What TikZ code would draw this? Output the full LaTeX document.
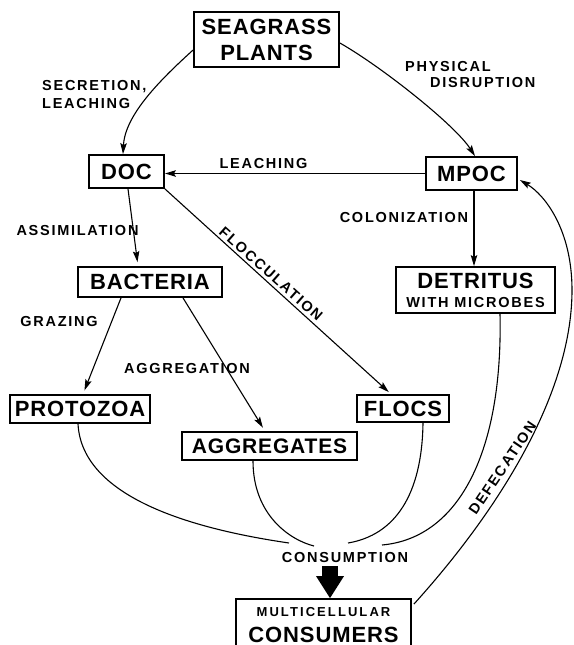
\documentclass[tikz,border=0pt]{standalone}
\usepackage{fontspec}
\usetikzlibrary{arrows.meta,calc}
\newfontfamily\boxfont[LetterSpace=4]{Liberation Sans}
\newfontfamily\labfont[LetterSpace=12]{Liberation Sans}
\newfontfamily\mcfont[LetterSpace=16]{Liberation Sans}
\begin{document}
\begin{tikzpicture}[x=1pt,y=-1pt,
  bx/.style={draw,line width=1.8pt,inner sep=0pt,align=center,font=\boxfont\bfseries\fontsize{22}{26}\selectfont},
  lab/.style={inner sep=0pt,font=\labfont\bfseries\fontsize{14.5}{18}\selectfont},
  arr/.style={line width=1.1pt,-{Stealth[length=11pt,width=6.5pt,inset=2pt]}},
  ln/.style={line width=1.1pt}]
\fill[white] (0,0) rectangle (573,645);
\useasboundingbox (0,0) rectangle (573,645);

% boxes
\node[bx,minimum width=145pt,minimum height=55pt] (sg) at (266.5,39.5) {SEAGRASS\\PLANTS};
\node[bx,minimum width=75pt,minimum height=33pt] (doc) at (126.5,171.5) {DOC};
\node[bx,minimum width=91pt,minimum height=33pt] (mpoc) at (471.5,173.5) {MPOC};
\node[bx,minimum width=159pt,minimum height=46pt] (det) at (475.5,290) {DETRITUS\\[-7pt]{\labfont\bfseries\fontsize{14.5}{18}\selectfont WITH MICROBES}};
\node[bx,minimum width=144pt,minimum height=30pt] (bac) at (150,282) {BACTERIA};
\node[bx,minimum width=140pt,minimum height=28pt] (proto) at (80,409) {PROTOZOA};
\node[bx,minimum width=175pt,minimum height=28pt,font=\boxfont\bfseries\fontsize{21}{26}\selectfont] (agg) at (269.5,446) {AGGREGATES};
\node[bx,minimum width=92pt,minimum height=27pt] (flocs) at (403,408.5) {FLOCS};
\node[bx,minimum width=175pt,minimum height=52pt] (cons) at (323.5,625) {{\mcfont\bfseries\fontsize{13}{15}\selectfont MULTICELLULAR}\\CONSUMERS};

% labels
\node[lab,anchor=west,align=left] (l1) at (42,94.5) {SECRETION,\\LEACHING};
\node[lab,anchor=west,align=left,font=\labfont\bfseries\fontsize{14.5}{16}\selectfont] (l2) at (405,75) {PHYSICAL\\\hspace*{25pt}DISRUPTION};
\node[lab] (l3) at (263.5,164) {LEACHING};
\node[lab] (l4) at (404,218) {COLONIZATION};
\node[lab] (l5) at (77.5,231) {ASSIMILATION};
\node[lab,rotate=-41.5] (l6) at (271,274) {FLOCCULATION};
\node[lab] (l7) at (59,322) {GRAZING};
\node[lab] (l8) at (187,369) {AGGREGATION};
\node[lab,rotate=56] (l9) at (502.5,468) {DEFECATION};
\node[lab] (l10) at (345,558) {CONSUMPTION};

% arrows
\draw[arr] ([yshift=-10.5pt]sg.west) .. controls (160,80) and (125,115) .. ([xshift=-3.5pt]doc.north);
\draw[arr] ([yshift=-3.5pt]sg.east) .. controls (382,67) and (455,125) .. ([xshift=3.5pt]mpoc.north);
\draw[arr] (mpoc.west) -- (doc.east |- mpoc.west);
\draw[arr] ([xshift=2.5pt]mpoc.south) -- ([xshift=-1.5pt]det.north);
\draw[arr,shorten >=4pt] ([xshift=1.5pt]doc.south) -- ([xshift=-12pt]bac.north);
\draw[arr,shorten >=3pt] (doc.south east) -- ([xshift=-12pt]flocs.north);
\draw[arr,shorten >=4pt] ([xshift=-29pt]bac.south) -- ([xshift=3pt]proto.north);
\draw[arr,shorten >=4pt] ([xshift=33pt]bac.south) -- ([xshift=-4.5pt]agg.north);

% consumption curves
\coordinate (e1) at (289,543);
\coordinate (e2) at (314,546);
\coordinate (e3) at (348,543);
\coordinate (e4) at (382,545);
\draw[ln] ([xshift=-2pt]proto.south) .. controls (82,500) and (200,530) .. (e1);
\draw[ln] ([xshift=-16.5pt]agg.south) .. controls (253,515) and (290,540) .. (e2);
\draw[ln] ([xshift=20pt]flocs.south) .. controls (422,495) and (395,535) .. (e3);
\draw[ln] ([xshift=24.5pt]det.south) .. controls (503,450) and (460,538) .. (e4);

% defecation
\draw[arr] ([xshift=2pt,yshift=-6pt]cons.north east) .. controls (490,520) and (572,400) .. (572,290) .. controls (572,230) and (545,195) .. ([xshift=2pt,yshift=-6.5pt]mpoc.east);

% big arrow
\coordinate (bigtip) at ([xshift=6.5pt]cons.north);
\draw[line width=16pt,-{Triangle[length=22pt,width=28pt,line width=0pt]},shorten <=3pt] (l10.south -| bigtip) -- (bigtip);
\end{tikzpicture}
\end{document}
